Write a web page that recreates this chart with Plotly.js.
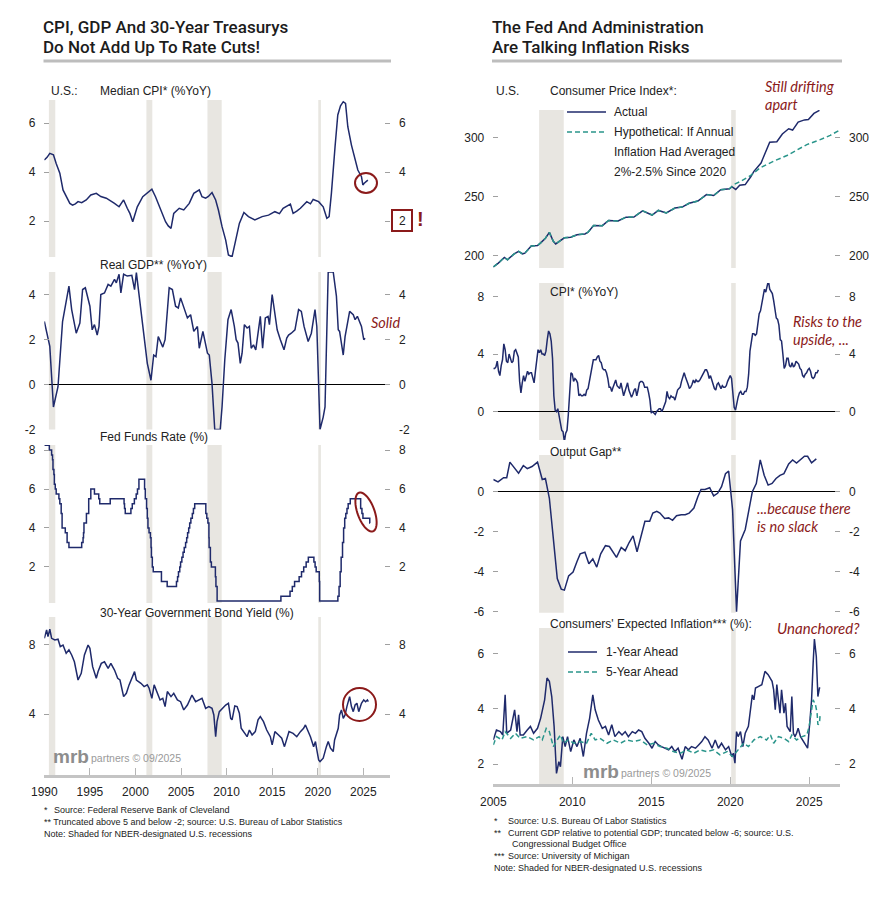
<!DOCTYPE html>
<html><head><meta charset="utf-8">
<script src="https://cdn.plot.ly/plotly-3.0.1.min.js"></script>
<style>html,body{margin:0;padding:0;background:#fff;}#chart{width:887px;height:903px;}</style>
</head><body><div id="chart"></div>
<script>
// ---------------- DATA ----------------
// Left panel (1990-2025)
const recessionsStart = [1990.5, 2001.2, 2007.9, 2020.06];
const recessionsEnd   = [1991.2, 2001.85, 2009.46, 2020.35];

const medCpiYear = [1990.0,1990.3,1990.6,1991.0,1991.3,1991.7,1992.05,1992.4,1992.8,1993.1,
 1993.4,1993.7,1994.1,1994.6,1995.1,1995.7,1996.2,1996.8,1997.2,1997.7,
 1998.2,1998.7,1999.1,1999.4,1999.7,2000.2,2000.8,2001.2,2001.5,2001.8,
 2002.2,2002.5,2002.8,2003.3,2003.6,2003.9,2004.2,2004.5,2004.8,2005.3,
 2005.9,2006.4,2007.0,2007.3,2007.7,2008.0,2008.4,2008.8,2009.1,2009.5,
 2009.9,2010.2,2010.6,2011.0,2011.4,2011.9,2012.4,2013.1,2013.5,2013.9,
 2014.6,2015.3,2015.8,2016.2,2017.0,2017.3,2017.7,2018.1,2018.8,2019.2,
 2019.5,2020.1,2020.6,2021.0,2021.25,2021.5,2021.9,2022.2,2022.5,2022.8,
 2023.05,2023.3,2023.7,2024.05,2024.4,2024.8,2024.95,2025.1,2025.3,2025.5];
const medCpiVal = [4.49,4.6,4.76,4.7,4.35,3.95,3.27,3.0,2.72,2.65,
 2.7,2.79,2.75,2.86,3.06,3.13,3.0,2.93,2.85,2.72,
 2.58,2.86,2.52,2.3,1.97,2.58,2.99,3.1,3.2,3.3,
 2.99,2.7,2.45,1.97,1.8,1.7,2.31,2.4,2.52,2.45,
 2.72,3.13,3.27,2.99,2.93,3.0,3.16,2.86,2.45,1.77,
 1.22,0.61,0.54,1.22,1.9,2.35,2.18,2.04,2.1,2.18,
 2.24,2.38,2.3,2.52,2.69,2.31,2.4,2.52,2.79,2.7,
 2.88,2.79,2.58,2.11,2.18,3.13,5.03,6.33,6.7,6.87,
 6.8,5.85,5.1,4.56,4.08,3.81,3.47,3.54,3.6,3.67];

const gdpYear = [1990.0,1990.4,1990.6,1991.0,1991.5,1992.0,1992.2,1992.7,1993.0,1993.5,
 1993.9,1994.2,1994.5,1995.0,1995.25,1995.5,1995.8,1996.0,1996.2,1996.6,
 1997.0,1997.3,1997.7,1997.9,1998.2,1998.4,1998.7,1999.1,1999.6,1999.9,
 2000.1,2000.4,2000.8,2001.3,2001.7,2002.0,2002.25,2002.5,2003.0,2003.25,
 2003.7,2004.05,2004.4,2004.7,2004.95,2005.5,2005.7,2006.05,2006.4,2006.8,
 2007.0,2007.4,2007.9,2008.1,2008.4,2008.7,2009.3,2009.5,2009.8,2010.15,
 2010.5,2010.85,2011.05,2011.25,2011.5,2011.7,2011.95,2012.25,2012.5,2012.7,
 2012.95,2013.2,2013.7,2013.95,2014.25,2014.55,2014.7,2015.0,2015.55,2015.9,
 2016.3,2016.6,2016.8,2017.1,2017.5,2017.9,2018.2,2018.5,2018.95,2019.3,
 2019.7,2019.9,2020.25,2020.6,2020.8,2021.15,2021.7,2022.05,2022.25,2022.4,
 2022.8,2023.0,2023.5,2023.9,2024.1,2024.35,2024.8,2025.05,2025.2];
const gdpVal = [2.8,2.0,1.7,-1.0,-0.1,2.8,3.2,4.37,3.33,2.28,
 2.73,4.22,4.3,3.48,2.43,2.66,2.2,2.58,4.0,4.07,
 4.45,4.37,4.67,4.52,4.9,4.07,4.9,4.82,4.85,4.22,
 4.97,3.93,2.58,0.94,0.19,1.31,1.24,2.13,1.66,1.99,
 4.3,4.22,3.48,3.4,3.85,3.18,2.96,3.1,2.36,2.58,
 1.61,2.36,1.39,1.31,0.04,-2,-2,-1.0,1.09,2.88,
 3.33,2.58,1.99,1.84,0.94,1.39,2.66,2.51,2.58,1.61,
 1.76,1.54,3.03,1.61,2.96,3.03,2.66,4.0,2.43,1.99,
 1.54,2.06,2.2,2.28,2.43,3.33,3.25,2.58,1.91,2.28,
 3.33,2.58,-2,-1.45,-1.0,5,5,3.93,2.43,2.36,
 1.31,2.13,3.25,3.1,2.88,3.03,2.58,1.99,2.06];

const fedFundsYear = [1990.0,1990.55,1990.8,1990.9,1990.95,1991.05,1991.1,1991.2,1991.3,1991.6,
 1991.7,1991.85,1991.95,1992.3,1992.5,1992.7,1994.1,1994.25,1994.3,1994.35,
 1994.62,1994.87,1995.1,1995.5,1995.97,1996.08,1997.23,1998.75,1998.8,1998.88,
 1999.5,1999.65,1999.88,2000.08,2000.22,2000.38,2001.0,2001.08,2001.22,2001.3,
 2001.37,2001.49,2001.64,2001.71,2001.75,2001.85,2001.95,2002.85,2003.48,2004.5,
 2004.62,2004.72,2004.86,2004.95,2005.09,2005.22,2005.35,2005.5,2005.62,2005.72,
 2005.84,2005.95,2006.08,2006.24,2006.36,2006.5,2007.72,2007.83,2007.95,2008.06,
 2008.08,2008.22,2008.33,2008.77,2008.83,2008.96,2015.96,2016.96,2017.21,2017.46,
 2017.96,2018.22,2018.46,2018.73,2018.97,2019.58,2019.71,2019.83,2020.17,2020.21,
 2022.21,2022.34,2022.46,2022.57,2022.72,2022.84,2022.96,2023.08,2023.21,2023.34,
 2023.57,2024.71,2024.85,2024.96,2025.71,2025.75];
const fedFundsVal = [8.25,8.0,7.75,7.5,7.0,6.75,6.25,6.0,5.75,5.5,
 5.25,4.75,4.0,3.75,3.25,3.0,3.25,3.5,3.75,4.25,
 4.75,5.5,6.0,5.75,5.5,5.25,5.5,5.25,5.0,4.75,
 5.0,5.25,5.5,5.75,6.0,6.5,6.0,5.5,5.0,4.5,
 4.0,3.75,3.5,3.0,2.5,2.0,1.75,1.25,1.0,1.25,
 1.5,1.75,2.0,2.25,2.5,2.75,3.0,3.25,3.5,3.75,
 4.0,4.25,4.5,4.75,5.0,5.25,4.75,4.5,4.25,3.5,
 3.0,2.25,2.0,1.5,1.0,0.25,0.5,0.75,1.0,1.25,
 1.5,1.75,2.0,2.25,2.5,2.25,2.0,1.75,1.25,0.25,
 0.5,1.0,1.75,2.5,3.25,4.0,4.5,4.75,5.0,5.25,
 5.5,5.0,4.75,4.5,4.25,4.25];

const bond30Year = [1990.0,1990.25,1990.4,1990.6,1990.8,1991.15,1991.5,1991.75,1992.05,1992.4,
 1992.7,1993.0,1993.3,1993.7,1994.05,1994.4,1994.8,1995.0,1995.3,1995.7,
 1995.9,1996.25,1996.6,1997.0,1997.3,1997.7,1998.05,1998.3,1998.7,1999.0,
 1999.3,1999.7,1999.9,2000.1,2000.6,2000.95,2001.3,2001.5,2001.8,2002.05,
 2002.4,2002.7,2003.0,2003.25,2003.5,2003.9,2004.2,2004.6,2004.95,2005.3,
 2005.7,2006.2,2006.6,2007.0,2007.3,2007.7,2008.05,2008.4,2008.6,2008.8,
 2008.95,2009.2,2009.5,2009.9,2010.2,2010.45,2010.6,2010.9,2011.15,2011.4,
 2011.6,2011.9,2012.25,2012.5,2012.8,2013.15,2013.45,2013.7,2014.05,2014.4,
 2014.8,2015.0,2015.3,2015.7,2016.05,2016.35,2016.6,2016.85,2017.3,2017.7,
 2018.1,2018.45,2018.65,2018.95,2019.2,2019.55,2019.75,2019.9,2020.1,2020.25,
 2020.6,2020.95,2021.15,2021.4,2021.7,2021.85,2022.25,2022.4,2022.6,2022.8,
 2023.0,2023.2,2023.5,2023.7,2023.9,2024.1,2024.3,2024.5,2024.8,2025.05,
 2025.25,2025.45,2025.55];
const bond30Val = [8.34,8.82,8.44,8.86,8.34,8.25,8.29,7.87,7.96,7.49,
 7.68,7.39,7.0,5.96,6.34,7.39,7.96,7.77,6.72,6.06,
 6.44,6.91,7.0,6.63,6.91,6.53,6.06,5.96,5.01,5.2,
 5.68,6.25,6.44,5.96,5.77,5.58,5.68,5.49,4.91,5.68,
 5.2,4.82,4.91,4.44,5.3,5.01,5.2,4.82,4.72,4.25,
 4.53,5.1,4.72,4.82,4.91,4.34,4.44,4.34,3.96,2.72,
 3.58,4.15,4.34,4.53,4.63,3.77,3.68,4.48,4.44,4.06,
 3.2,3.01,2.72,3.1,2.82,3.01,3.68,3.87,3.58,3.1,
 2.72,2.25,3.01,2.82,2.63,2.15,2.53,3.01,2.91,2.72,
 3.01,3.2,3.39,3.01,2.72,2.15,2.44,1.96,1.39,1.3,
 1.49,2.15,2.44,2.06,1.87,2.53,3.2,3.96,4.25,3.77,
 3.96,4.44,5.01,4.44,4.15,4.53,4.63,4.15,4.63,4.82,
 4.72,4.82,4.72];

// Right panel (2005-2025)
const cpiLevelYear = [2005.0,2005.3,2005.7,2005.9,2006.3,2006.6,2006.85,2007.0,2007.4,2007.8,
 2008.0,2008.3,2008.55,2008.8,2008.95,2009.2,2009.5,2009.9,2010.3,2010.8,
 2011.0,2011.35,2011.9,2012.3,2012.9,2013.4,2013.9,2014.45,2014.95,2015.05,
 2015.45,2015.95,2016.5,2016.95,2017.4,2017.95,2018.5,2018.95,2019.4,2019.95,
 2020.1,2020.35,2020.6,2020.95,2021.3,2021.5,2021.95,2022.25,2022.5,2022.95,
 2023.3,2023.7,2023.95,2024.3,2024.7,2024.95,2025.3,2025.65];
const cpiLevelVal = [190.7,193.7,198.8,196.8,201.5,203.9,201.8,202.4,208.4,208.9,
 211.1,215.0,219.96,212.4,210.2,212.7,215.4,215.9,218.0,218.7,
 220.2,225.9,225.7,230.1,229.6,232.9,233.0,238.3,234.8,234.7,
 238.6,236.5,240.6,241.4,244.7,246.5,252.0,251.2,256.1,256.97,
 258.7,256.4,259.9,260.5,267.1,271.7,278.8,289.1,296.3,296.8,
 303.4,307.8,306.7,313.5,315.3,315.6,320.8,323.4];
const hypoStartYear = 2020.1;
const hypoYear = [2020.21,2020.63,2021.27,2021.9,2022.74,2023.59,2024.22,2024.85,2025.7,2026.33,2026.86];
const hypoVal  = [260.5,263.0,268.0,274.7,280.3,285.1,289.6,294.4,298.6,302.2,306.2];

const cpiYoYStart = 2005; // monthly from Jan 2005
const cpiYoY = [
 3.0,3.0,3.1,3.5,2.8,2.5,3.2,3.6,4.7,4.3,3.5,3.4,
 4.0,3.6,3.4,3.5,4.2,4.3,4.1,3.8,2.1,1.3,2.0,2.5,
 2.1,2.4,2.8,2.6,2.7,2.7,2.4,2.0,2.8,3.5,4.3,4.1,
 4.3,4.0,4.0,3.9,4.2,5.0,5.6,5.4,4.9,3.7,1.1,0.1,
 0.0,0.2,-0.4,-0.7,-1.3,-1.4,-2.1,-1.5,-1.3,-0.2,1.8,2.7,
 2.6,2.1,2.3,2.2,2.0,1.1,1.2,1.1,1.1,1.2,1.1,1.5,
 1.6,2.1,2.7,3.2,3.6,3.6,3.6,3.8,3.9,3.5,3.4,3.0,
 2.9,2.9,2.7,2.3,1.7,1.7,1.4,1.7,2.0,2.2,1.8,1.7,
 1.6,2.0,1.5,1.1,1.4,1.8,2.0,1.5,1.2,1.0,1.2,1.5,
 1.6,1.1,1.5,2.0,2.1,2.1,2.0,1.7,1.7,1.7,1.3,0.8,
 -0.1,0.0,-0.1,-0.2,0.0,0.1,0.2,0.2,0.0,0.2,0.5,0.7,
 1.4,1.0,0.9,1.1,1.0,1.0,0.8,1.1,1.5,1.6,1.7,2.1,
 2.5,2.7,2.4,2.2,1.9,1.6,1.7,1.9,2.2,2.0,2.2,2.1,
 2.1,2.2,2.4,2.5,2.8,2.9,2.9,2.7,2.3,2.5,2.2,1.9,
 1.6,1.5,1.9,2.0,1.8,1.6,1.8,1.7,1.7,1.8,2.1,2.3,
 2.5,2.3,1.5,0.3,0.1,0.6,1.0,1.3,1.4,1.2,1.2,1.4,
 1.4,1.7,2.6,4.2,5.0,5.4,5.4,5.3,5.4,6.2,6.8,7.0,
 7.5,7.9,8.5,8.3,8.6,9.1,8.5,8.3,8.2,7.7,7.1,6.5,
 6.4,6.0,5.0,4.9,4.0,3.0,3.2,3.7,3.7,3.2,3.1,3.4,
 3.1,3.2,3.5,3.4,3.3,3.0,2.9,2.5,2.4,2.6,2.7,2.9,
 3.0,2.8,2.4,2.3,2.4,2.7,2.7,2.9];

const outputGapYear = [2005.0,2005.3,2005.65,2005.85,2006.05,2006.3,2006.6,2006.9,2007.15,2007.45,
 2007.8,2008.1,2008.3,2008.55,2008.8,2009.05,2009.3,2009.5,2009.77,2010.05,
 2010.3,2010.5,2010.8,2011.05,2011.3,2011.55,2011.8,2012.1,2012.35,2012.6,
 2012.8,2013.1,2013.35,2013.6,2013.85,2014.1,2014.35,2014.6,2014.9,2015.1,
 2015.35,2015.55,2015.85,2016.1,2016.35,2016.6,2016.9,2017.15,2017.4,2017.7,
 2017.95,2018.15,2018.4,2018.7,2018.95,2019.2,2019.45,2019.7,2019.9,2020.15,
 2020.4,2020.65,2020.95,2021.15,2021.4,2021.65,2021.9,2022.15,2022.4,2022.65,
 2022.9,2023.15,2023.4,2023.7,2023.95,2024.2,2024.45,2024.7,2024.9,2025.15,
 2025.45];
const outputGapVal = [0.61,0.49,0.7,0.7,1.48,1.23,0.93,1.31,1.15,1.26,
 1.48,0.61,0.66,-0.33,-2.54,-4.34,-4.87,-4.92,-4.21,-4.02,
 -3.49,-3.11,-3.03,-3.6,-3.36,-3.77,-3.11,-2.7,-2.74,-3.03,
 -3.28,-2.79,-2.95,-2.54,-2.21,-3.0,-2.21,-1.48,-1.48,-1.07,
 -0.98,-1.07,-1.34,-1.31,-1.43,-1.2,-1.15,-1.15,-1.07,-0.82,
 -0.25,0.11,0.11,0.2,-0.21,-0.08,0.25,0.9,1.03,-0.9,
 -6,-2.46,-1.89,-0.98,0.0,0.41,1.59,0.82,0.33,0.41,
 0.66,0.82,0.9,1.39,1.59,1.43,1.59,1.77,1.77,1.44,
 1.64];

const exp1yYear = [2005.0,2005.2,2005.45,2005.6,2005.75,2005.85,2006.1,2006.35,2006.5,2006.6,
 2006.7,2006.9,2007.15,2007.35,2007.55,2007.8,2008.0,2008.25,2008.4,2008.55,
 2008.7,2008.85,2009.0,2009.15,2009.25,2009.4,2009.55,2009.7,2009.9,2010.1,
 2010.3,2010.5,2010.7,2010.9,2011.1,2011.3,2011.45,2011.65,2011.9,2012.1,
 2012.3,2012.5,2012.7,2012.95,2013.15,2013.35,2013.55,2013.8,2014.0,2014.2,
 2014.4,2014.6,2014.85,2015.05,2015.25,2015.45,2015.65,2015.9,2016.1,2016.3,
 2016.5,2016.7,2016.95,2017.15,2017.35,2017.55,2017.8,2018.0,2018.2,2018.4,
 2018.6,2018.85,2019.05,2019.25,2019.45,2019.7,2019.9,2020.1,2020.2,2020.3,
 2020.4,2020.5,2020.65,2020.8,2020.95,2021.15,2021.4,2021.5,2021.6,2021.8,
 2022.0,2022.2,2022.4,2022.65,2022.75,2022.85,2022.95,2023.05,2023.15,2023.25,
 2023.4,2023.5,2023.6,2023.8,2023.9,2024.0,2024.1,2024.2,2024.3,2024.45,
 2024.65,2024.8,2024.9,2025.05,2025.15,2025.25,2025.33,2025.45,2025.55,2025.65,
 2025.7];
const exp1yVal = [2.88,3.24,3.18,3.06,4.51,3.12,3.24,3.97,3.18,3.79,
 3.06,3.06,3.24,3.37,3.12,3.3,3.67,4.33,5.12,5.0,
 4.45,3.37,1.67,2.09,1.91,3.0,2.64,3.0,2.46,2.88,
 2.64,2.94,2.28,3.12,3.67,4.51,3.97,3.6,3.3,3.37,
 3.06,3.43,3.0,3.18,3.06,3.18,3.0,3.18,3.12,3.24,
 3.18,2.94,2.76,2.58,2.82,2.7,2.64,2.58,2.52,2.64,
 2.46,2.58,2.18,2.64,2.52,2.64,2.58,2.7,2.82,3.0,
 2.88,2.58,2.88,2.58,2.76,2.52,2.64,2.28,2.4,2.04,
 3.18,3.0,3.18,2.64,3.12,3.37,4.51,4.33,4.76,4.82,
 4.88,5.36,5.24,5.0,4.69,3.97,4.88,4.33,3.85,4.69,
 3.85,4.21,3.37,3.18,4.45,3.12,3.0,3.12,3.3,3.0,
 2.82,2.64,2.58,3.6,4.33,5.66,6.53,5.9,4.45,4.76,
 4.76];

const exp5yYear = [2005.0,2005.2,2005.55,2005.75,2006.1,2006.4,2006.7,2007.15,2007.55,2007.9,
 2008.1,2008.35,2008.55,2008.8,2009.05,2009.25,2009.45,2009.75,2010.1,2010.5,
 2010.9,2011.2,2011.45,2011.75,2012.2,2012.6,2013.05,2013.45,2013.9,2014.3,
 2014.75,2015.15,2015.55,2016.0,2016.4,2016.85,2017.25,2017.7,2018.1,2018.5,
 2018.95,2019.35,2019.8,2020.15,2020.5,2020.85,2021.15,2021.5,2021.9,2022.3,
 2022.55,2022.75,2023.05,2023.4,2023.7,2023.9,2024.2,2024.55,2024.85,2025.0,
 2025.15,2025.25,2025.4,2025.5,2025.55,2025.65,2025.7];
const exp5yVal = [2.7,3.0,2.88,3.18,2.94,3.12,2.94,3.0,2.88,3.0,
 2.88,3.3,3.18,2.64,2.88,3.06,2.76,2.88,2.76,2.82,
 2.76,3.12,2.88,2.94,2.76,2.88,2.76,2.88,2.82,2.88,
 2.7,2.76,2.64,2.58,2.46,2.4,2.52,2.4,2.52,2.46,
 2.52,2.34,2.46,2.28,2.52,2.76,2.64,2.88,3.0,2.88,
 3.06,2.76,3.0,2.94,2.82,3.06,2.88,3.0,3.06,3.37,
 3.97,4.33,4.15,3.85,3.43,3.49,3.85];

const leftYearTicks  = [1990,1995,2000,2005,2010,2015,2020,2025];
const rightYearTicks = [2005,2010,2015,2020,2025];

// ---------------- LAYOUT HELPERS ----------------
const W = 887, H = 903;
const fx = x => x / W, fy = y => 1 - y / H;
const NAVY = '#1f2a6b', TEAL = '#2a958b', RED = '#8b1a1a', SHADE = '#e8e6e1';
const SANS = 'Liberation Sans, Arial, sans-serif';
const tickFont = {family: SANS, size: 12, color: '#222'};

const cpiYoYYear = cpiYoY.map((v, i) => cpiYoYStart + i / 12);
const hypoFullYear = cpiLevelYear.filter(y => y <= hypoStartYear).concat(hypoYear);
const hypoFullVal = cpiLevelVal.filter((v, i) => cpiLevelYear[i] <= hypoStartYear).concat(hypoVal);

// subplot definitions: [topPx, bottomPx, range, tickvals, zeroline, xaxis]
const panels = [
  [100, 257, [0.53, 6.94], [2,4,6], false, 'x'],
  [272, 429.5, [-2, 5], [-2,0,2,4], true, 'x'],
  [445, 603, [0.15, 8.26], [2,4,6,8], false, 'x'],
  [617, 775, [0.53, 9.56], [4,8], false, 'x'],
  [110, 268, [189.8, 323.7], [200,250,300], false, 'x2'],
  [283, 440, [-1.97, 8.93], [0,4,8], true, 'x2'],
  [455, 612.7, [-6.05, 1.835], [-6,-4,-2,0], true, 'x2'],
  [628, 784.3, [1.275, 6.93], [2,4,6], false, 'x2']
];

const xCommon = {ticks:'inside', ticklen:7, tickcolor:'#b5b5b5', tickwidth:1,
  showline:true, linecolor:'#c4c4c4', linewidth:3, showgrid:false, zeroline:false,
  tickfont:tickFont, fixedrange:true, ticklabelstandoff:4};
const layout = {
  width: W, height: H, margin: {l:0, r:0, t:0, b:0},
  paper_bgcolor: '#fff', plot_bgcolor: 'rgba(0,0,0,0)',
  showlegend: false, font: {family: SANS, color: '#222'},
  xaxis: Object.assign({domain:[fx(44.33), fx(390)], range:[1990, 2027.93], anchor:'y4',
    tickvals:leftYearTicks}, xCommon),
  xaxis2: Object.assign({domain:[fx(493.3), fx(840)], range:[2005, 2026.95], anchor:'y8',
    tickvals:rightYearTicks}, xCommon),
  shapes: [], annotations: []
};

const traces = [];
panels.forEach((p, i) => {
  const n = i + 1, m = i + 9;
  const common = {range:p[2], tickvals:p[3], ticktext:p[3].map(String), ticks:'inside', ticklen:5,
    tickcolor:'#a0a0a0', tickwidth:1, showgrid:false, showline:false, tickfont:tickFont,
    fixedrange:true, anchor:p[5], ticklabelstandoff:8};
  layout['yaxis' + n] = Object.assign({}, common, {domain:[fy(p[1]), fy(p[0])],
    zeroline:p[4], zerolinecolor:'#000', zerolinewidth:1});
  layout['yaxis' + m] = Object.assign({}, common, {overlaying:'y' + (n===1?'':n), side:'right', zeroline:false});
  traces.push({x:[null], y:[null], xaxis:p[5], yaxis:'y' + m, mode:'lines', hoverinfo:'skip', showlegend:false});
  // recession shading
  recessionsStart.forEach((s, k) => {
    layout.shapes.push({type:'rect', xref:p[5], yref:'y' + (n===1?'':n) + ' domain',
      x0:s, x1:recessionsEnd[k], y0:0, y1:1, fillcolor:SHADE, line:{width:0}, layer:'below'});
  });
});

function line(x, y, xa, ya, color, dash, shape) {
  return {x, y, xaxis:xa, yaxis:ya, mode:'lines', hoverinfo:'skip',
    line:{color, width:1.5, dash:dash || 'solid', shape:shape || 'linear'}};
}
traces.push(line(medCpiYear, medCpiVal, 'x', 'y', NAVY));
traces.push(line(gdpYear, gdpVal, 'x', 'y2', NAVY));
traces.push(line(fedFundsYear, fedFundsVal, 'x', 'y3', NAVY, null, 'hv'));
traces.push(line(bond30Year, bond30Val, 'x', 'y4', NAVY));
traces.push(line(cpiLevelYear, cpiLevelVal, 'x2', 'y5', NAVY));
traces.push(line(hypoFullYear, hypoFullVal, 'x2', 'y5', TEAL, '5px,3px'));
traces.push(line(cpiYoYYear, cpiYoY, 'x2', 'y6', NAVY));
traces.push(line(outputGapYear, outputGapVal, 'x2', 'y7', NAVY));
traces.push(line(exp1yYear, exp1yVal, 'x2', 'y8', NAVY));
traces.push(line(exp5yYear, exp5yVal, 'x2', 'y8', TEAL, '5px,3px'));

// ---------------- TEXT & DECORATIONS ----------------
function T(text, x, y, o) {
  o = o || {};
  layout.annotations.push({text, x:fx(x), y:fy(y), xref:'paper', yref:'paper', showarrow:false,
    xanchor:o.xa || 'left', yanchor:'middle', borderpad:0,
    font:{family:o.family || SANS, size:o.size || 12, color:o.color || '#222',
      weight:o.weight || 'normal', style:o.style || 'normal'}});
}
const TITLE = {family:'Roboto, sans-serif', size:17, weight:500, color:'#1c1c1c'};
T('CPI, GDP And 30-Year Treasurys', 42, 27, TITLE);
T('Do Not Add Up To Rate Cuts!', 42, 47, TITLE);
T('The Fed And Administration', 491, 27, TITLE);
T('Are Talking Inflation Risks', 491, 47, TITLE);
layout.shapes.push({type:'rect', xref:'paper', yref:'paper', x0:fx(43.5), x1:fx(391), y0:fy(62.5), y1:fy(59.5), fillcolor:'#bdbdbd', line:{width:0}});
layout.shapes.push({type:'rect', xref:'paper', yref:'paper', x0:fx(492), x1:fx(842), y0:fy(62.5), y1:fy(59.5), fillcolor:'#bdbdbd', line:{width:0}});

// panel labels
T('U.S.:', 50, 91); T('Median CPI* (%YoY)', 99, 91);
T('Real GDP** (%YoY)', 99, 265); T('Fed Funds Rate (%)', 99, 437);
T('30-Year Government Bond Yield (%)', 99, 613);
T('U.S.', 495, 91); T('Consumer Price Index*:', 549, 91);
T('Actual', 613, 112); T('Hypothetical: If Annual', 613, 132);
T('Inflation Had Averaged', 613, 152); T('2%-2.5% Since 2020', 613, 172.5);
T('CPI* (%YoY)', 549, 292); T('Output Gap**', 549, 452);
T("Consumers' Expected Inflation*** (%):", 549, 624);
T('1-Year Ahead', 605, 652); T('5-Year Ahead', 605, 672);
// legend samples
function seg(x0, x1, y, color, dash) {
  layout.shapes.push({type:'line', xref:'paper', yref:'paper', x0:fx(x0), x1:fx(x1), y0:fy(y), y1:fy(y),
    line:{color, width:1.5, dash:dash || 'solid'}});
}
seg(567, 606, 112, NAVY); seg(567, 606, 132, TEAL, '5px,3px');
seg(568, 597, 652, NAVY); seg(568, 597, 672, TEAL, '5px,3px');

// italic comments
const IT = {family:'Lato, sans-serif', size:14.5, style:'italic', color:RED};
T('Still drifting', 764, 86, IT); T('apart', 764, 104, IT);
T('Risks to the', 792, 321, IT); T('upside, ...', 792, 339, IT);
T('...because there', 756, 508, IT); T('is no slack', 756, 526, IT);
T('Unanchored?', 776, 628, Object.assign({}, IT, {size:15}));
T('Solid', 370, 323, IT);

// circles and box
function circ(x0, y0, x1, y1) {
  layout.shapes.push({type:'circle', xref:'paper', yref:'paper', x0:fx(x0), x1:fx(x1), y0:fy(y1), y1:fy(y0),
    line:{color:RED, width:2}});
}
circ(355, 173, 377, 193);
circ(343, 688, 376, 721);
layout.shapes.push({type:'rect', xref:'paper', yref:'paper', x0:fx(392), x1:fx(412), y0:fy(231), y1:fy(210),
  line:{color:RED, width:2}, fillcolor:'rgba(0,0,0,0)'});
T('!', 420, 219, {family:SANS, size:20, weight:'bold', color:RED, xa:'center'});
(function ellipse(cx, cy, a, b, ang) {
  const th = ang * Math.PI / 180; let d = '';
  for (let i = 0; i <= 60; i++) {
    const t = i / 60 * 2 * Math.PI, u = b * Math.cos(t), v = a * Math.sin(t);
    const px = cx + u * Math.cos(th) + v * Math.sin(th);
    const py = cy - u * Math.sin(th) + v * Math.cos(th);
    d += (i ? 'L' : 'M') + fx(px).toFixed(5) + ',' + fy(py).toFixed(5);
  }
  layout.shapes.push({type:'path', xref:'paper', yref:'paper', path:d + 'Z', line:{color:RED, width:2}});
})(366, 512, 20.5, 8.5, 20);

// watermarks
T('mrb', 52, 756, {family:SANS, size:19, weight:'bold', color:'#8d8d8d'});
T('partners © 09/2025', 90, 758, {family:SANS, size:10.5, color:'#9a9a9a'});
T('mrb', 582, 771, {family:SANS, size:19, weight:'bold', color:'#8d8d8d'});
T('partners © 09/2025', 620, 773, {family:SANS, size:10.5, color:'#9a9a9a'});

// footnotes
const FN = {family:SANS, size:9, color:'#222'};
T('*', 43, 810, FN); T('Source: Federal Reserve Bank of Cleveland', 53, 809.5, FN);
T('** Truncated above 5 and below -2; source: U.S. Bureau of Labor Statistics', 43, 821.5, FN);
T('Note: Shaded for NBER-designated U.S. recessions', 43, 833.5, FN);
T('*', 493, 821, FN); T('Source: U.S. Bureau Of Labor Statistics', 507, 820.5, FN);
T('**', 493, 833, FN); T('Current GDP relative to potential GDP; truncated below -6; source: U.S.', 507, 832.5, FN);
T('Congressional Budget Office', 510.5, 843.5, FN);
T('***', 493, 856, FN); T('Source: University of Michigan', 507, 855.5, FN);
T('Note: Shaded for NBER-designated U.S. recessions', 493, 867.5, FN);

Plotly.newPlot('chart', traces, layout, {staticPlot:true, displayModeBar:false});
</script></body></html>
